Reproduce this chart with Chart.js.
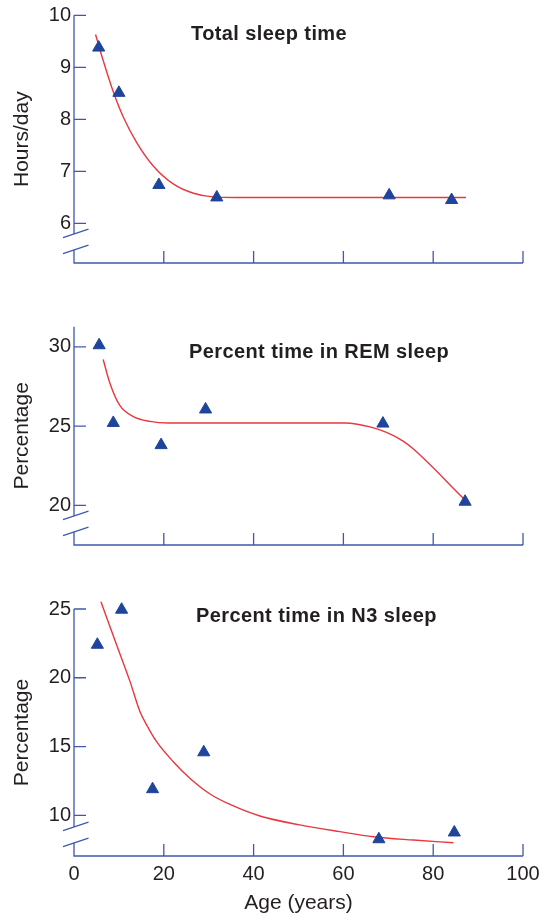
<!DOCTYPE html>
<html>
<head>
<meta charset="utf-8">
<script src="https://cdn.jsdelivr.net/npm/chart.js@4.4.1/dist/chart.umd.min.js"></script>
<style>
  body { margin: 0; background: #fff; }
  #page { position: relative; width: 547px; height: 917px; overflow: hidden; background: #fff; }
  #page canvas { position: absolute; left: 0; }
  .panel-title {
    position: absolute;
    font: bold 20px "Liberation Sans", Arial, Helvetica, sans-serif;
    letter-spacing: 0.4px;
    line-height: 20px;
    color: #231f20;
    white-space: nowrap;
  }
</style>
</head>
<body>
<div id="page">
  <canvas id="totalChart" width="547" height="290" style="top:0px"></canvas>
  <canvas id="remChart" width="547" height="260" style="top:300px"></canvas>
  <canvas id="n3Chart" width="547" height="337" style="top:580px"></canvas>
  <div class="panel-title" style="left:191px; top:23px">Total sleep time</div>
  <div class="panel-title" style="left:189px; top:341px">Percent time in REM sleep</div>
  <div class="panel-title" style="left:196px; top:605px">Percent time in N3 sleep</div>
</div>
<script>
const axisBlue = '#3f58ad';
const markerBlue = '#1f449b';
const fitRed = '#e8373e';
const textColor = '#231f20';
const fontFamily = '"Liberation Sans", Arial, Helvetica, sans-serif';

const ageTicks = [0, 20, 40, 60, 80, 100];

// total sleep time (hours/day)
const totalAge = [5.5, 10, 18.9, 31.8, 70.2, 84.1];
const totalHours = [9.38, 8.51, 6.74, 6.5, 6.54, 6.45];
const totalFitAge = [4.8, 6.5, 8.75, 11, 14, 17.7, 22.1, 26.6, 31, 36, 87.3];
const totalFitHours = [9.63, 9.13, 8.53, 8.04, 7.55, 7.1, 6.76, 6.58, 6.51, 6.5, 6.5];
const totalTicks = [6, 7, 8, 9, 10];

// percent time in REM sleep
const remAge = [5.6, 8.75, 19.4, 29.3, 68.8, 87.1];
const remPct = [30.1, 25.2, 23.8, 26.05, 25.16, 20.23];
const remFitAge = [6.5, 8, 10.2, 13.2, 16.9, 21, 60.5, 65.9, 69.6, 73.3, 75.6, 86.7];
const remFitPct = [29.2, 27.7, 26.3, 25.6, 25.3, 25.2, 25.2, 24.95, 24.6, 24.05, 23.55, 20.45];
const remTicks = [20, 25, 30];

// percent time in N3 sleep
const n3Age = [5.2, 10.6, 17.5, 28.9, 67.9, 84.7];
const n3Pct = [22.4, 24.95, 11.9, 14.58, 8.26, 8.75];
const n3FitAge = [6.0, 9.5, 12.5, 14.7, 16.2, 18.4, 22.1, 25.8, 30.3, 35, 41.4, 50.3, 59.2, 66.7, 75.6, 84.5];
const n3FitPct = [25.53, 22.38, 19.7, 17.53, 16.56, 15.35, 13.9, 12.7, 11.55, 10.75, 9.95, 9.3, 8.81, 8.44, 8.2, 8.0];
const n3Ticks = [10, 15, 20, 25];

// draws the broken y axis, the x axis and the inward ticks
const brokenAxes = {
  id: 'brokenAxes',
  beforeDatasetsDraw(chart) {
    const { ctx, chartArea: a, scales: { x, y } } = chart;
    const breakHi = a.bottom - 29;
    const breakLo = a.bottom - 13;
    ctx.save();
    ctx.strokeStyle = axisBlue;
    ctx.lineWidth = 1.3;
    ctx.beginPath();
    ctx.moveTo(a.left, a.top);
    ctx.lineTo(a.left, breakHi);
    ctx.moveTo(a.left, breakLo);
    ctx.lineTo(a.left, a.bottom);
    ctx.lineTo(a.right, a.bottom);
    y.ticks.forEach(t => {
      const py = y.getPixelForValue(t.value);
      ctx.moveTo(a.left, py);
      ctx.lineTo(a.left + 12, py);
    });
    x.ticks.forEach(t => {
      if (t.value <= 0) return;
      const px = x.getPixelForValue(t.value);
      ctx.moveTo(px, a.bottom);
      ctx.lineTo(px, a.bottom - 12);
    });
    [breakHi, breakLo].forEach(by => {
      ctx.moveTo(a.left - 11, by + 3.6);
      ctx.lineTo(a.left + 14.5, by - 4.8);
    });
    ctx.stroke();
    ctx.restore();
  }
};

function toPoints(xs, ys) {
  return xs.map((v, i) => ({ x: v, y: ys[i] }));
}

function makePanel(id, cfg) {
  return new Chart(document.getElementById(id), {
    type: 'line',
    data: {
      datasets: [
        {
          data: toPoints(cfg.ages, cfg.values),
          showLine: false,
          pointStyle: 'triangle',
          pointRadius: 7,
          pointBackgroundColor: markerBlue,
          pointBorderColor: markerBlue,
          pointBorderWidth: 1,
          clip: false,
          order: 0
        },
        {
          data: toPoints(cfg.fitAges, cfg.fitValues),
          borderColor: fitRed,
          borderWidth: 1.4,
          pointRadius: 0,
          cubicInterpolationMode: 'monotone',
          fill: false,
          clip: false,
          order: 1
        }
      ]
    },
    options: {
      responsive: false,
      animation: false,
      events: [],
      layout: { padding: { top: cfg.padTop, right: 24, bottom: 0, left: 0 } },
      plugins: { legend: { display: false }, tooltip: { enabled: false } },
      scales: {
        x: {
          type: 'linear',
          min: 0,
          max: 100,
          grid: { display: false, drawTicks: false },
          border: { display: false },
          afterBuildTicks: s => { s.ticks = ageTicks.map(v => ({ value: v })); },
          ticks: {
            display: cfg.showX,
            padding: 6,
            color: textColor,
            font: { family: fontFamily, size: 20 }
          },
          title: {
            display: cfg.showX,
            text: 'Age (years)',
            color: textColor,
            font: { family: fontFamily, size: 21 },
            padding: { top: 0, bottom: 1 }
          },
          afterFit: s => { s.height = cfg.xHeight; }
        },
        y: {
          type: 'linear',
          min: cfg.yMin,
          max: cfg.yMax,
          grid: { display: false, drawTicks: false },
          border: { display: false },
          afterBuildTicks: s => { s.ticks = cfg.ticks.map(v => ({ value: v })); },
          ticks: {
            padding: 3,
            color: textColor,
            font: { family: fontFamily, size: 20 }
          },
          title: {
            display: true,
            text: cfg.yTitle,
            color: textColor,
            font: { family: fontFamily, size: 21 },
            padding: { top: 9.5, bottom: 0 }
          },
          afterFit: s => { s.width = 74; }
        }
      }
    },
    plugins: [brokenAxes]
  });
}

makePanel('totalChart', {
  ages: totalAge, values: totalHours,
  fitAges: totalFitAge, fitValues: totalFitHours,
  ticks: totalTicks, yMin: 5.24, yMax: 10, yTitle: 'Hours/day',
  padTop: 15.3, xHeight: 27, showX: false
});

makePanel('remChart', {
  ages: remAge, values: remPct,
  fitAges: remFitAge, fitValues: remFitPct,
  ticks: remTicks, yMin: 17.5, yMax: 31.27, yTitle: 'Percentage',
  padTop: 26.7, xHeight: 10.7, showX: false
});

makePanel('n3Chart', {
  ages: n3Age, values: n3Pct,
  fitAges: n3FitAge, fitValues: n3FitPct,
  ticks: n3Ticks, yMin: 7.04, yMax: 25, yTitle: 'Percentage',
  padTop: 29, xHeight: 61, showX: true
});
</script>
</body>
</html>
